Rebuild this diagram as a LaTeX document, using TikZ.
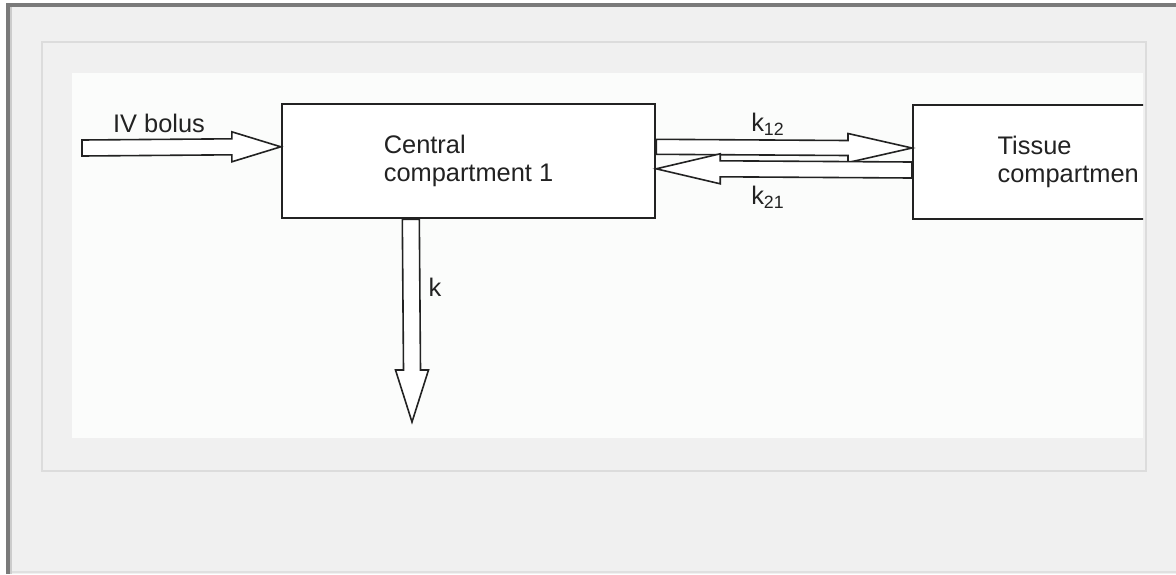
\documentclass[tikz,border=0pt]{standalone}
\usepackage{fontspec}
\setmainfont{Liberation Sans}
\usetikzlibrary{positioning, calc}
\usepackage{xcolor}
\definecolor{pagegray}{HTML}{F0F0F0}
\definecolor{framegray}{HTML}{7A7A7A}
\definecolor{panelline}{HTML}{DCDCDC}
\definecolor{sheet}{HTML}{FBFCFB}
\definecolor{ink}{HTML}{222222}

\begin{document}
\begin{tikzpicture}[x=0.5pt, y=-0.5pt,
    box/.style={draw=ink, line width=1.2pt, fill=white, align=left, inner sep=0pt,
      text=ink, font=\fontsize{12.7}{13.8}\selectfont, minimum height=57pt},
    flow/.style={draw=ink, line width=0.8pt, fill=white, line join=miter},
    lbl/.style={text=ink, font=\fontsize{12.7}{13.8}\selectfont}]
      % page and panel
      \useasboundingbox (0,0) rectangle (1176,574);
      \fill[white] (0,0) rectangle (1176,574);
      \fill[pagegray] (6,3) rectangle (1176,574);
      \fill[framegray] (6,3) rectangle (1176,7);
      \fill[framegray] (6,3) rectangle (10,574);
      \fill[black!20] (10,7) rectangle (12,574);
      \fill[black!12] (12,571) rectangle (1176,573);
      \draw[panelline, line width=1pt] (42,42) rectangle (1146,471);
      \fill[sheet] (72,73) rectangle (1143,438);

      \begin{scope}
        \clip (72,73) rectangle (1143,438);
        % compartments
        \node[box, minimum width=186.5pt] (central) at (468.5,161)
          {Central\\compartment 1};
        \node[box, minimum width=155pt, anchor=north west] (tissue) at (912,104)
          {Tissue\\compartmen};

        \coordinate (ivin) at (82,148);
        \coordinate (ivtip) at ($(central.north west)+(0,44)$);
        \coordinate (k12in) at ($(central.north east)+(0,44)$);
        \coordinate (k12tip) at ($(tissue.north west)+(0,44)$);
        \coordinate (k21in) at ($(tissue.north west)+(0,66)$);
        \coordinate (k21tip) at ($(central.north east)+(0,66)$);
        \coordinate (kin) at ($(central.south west)+(130,0)$);
        \coordinate (kout) at (412,422);

        % block arrows
        \draw[flow] ($(ivin)+(0,-8)$) -- ($(ivtip)+(-49,-8)$) -- ($(ivtip)+(-49,-15)$)
          -- (ivtip) -- ($(ivtip)+(-49,15)$) -- ($(ivtip)+(-49,8)$) -- ($(ivin)+(0,8)$) -- cycle;
        \draw[flow] ($(k12in)+(0,-7.5)$) -- ($(k12tip)+(-64,-7.5)$) -- ($(k12tip)+(-64,-14.5)$)
          -- (k12tip) -- ($(k12tip)+(-64,14.5)$) -- ($(k12tip)+(-64,7.5)$) -- ($(k12in)+(0,7.5)$) -- cycle;
        \draw[flow] ($(k21in)+(0,-8)$) -- ($(k21tip)+(64,-8)$) -- ($(k21tip)+(64,-15)$)
          -- (k21tip) -- ($(k21tip)+(64,15)$) -- ($(k21tip)+(64,8)$) -- ($(k21in)+(0,8)$) -- cycle;
        \draw[flow] ($(kin)+(-8.5,0)$) -- ($(kout)+(-8.5,-52)$) -- ($(kout)+(-16.5,-52)$)
          -- (kout) -- ($(kout)+(16.5,-52)$) -- ($(kout)+(8.5,-52)$) -- ($(kin)+(8.5,0)$) -- cycle;

        % rate labels
        \node[lbl] (ivlabel) at (159,123) {IV bolus};
        \node[lbl] (k12label) at (768,124) {k\textsubscript{12}};
        \node[lbl] (k21label) at (768,197) {k\textsubscript{21}};
        \node[lbl] (klabel) at (435,287) {k};
      \end{scope}
    \end{tikzpicture}
\end{document}
